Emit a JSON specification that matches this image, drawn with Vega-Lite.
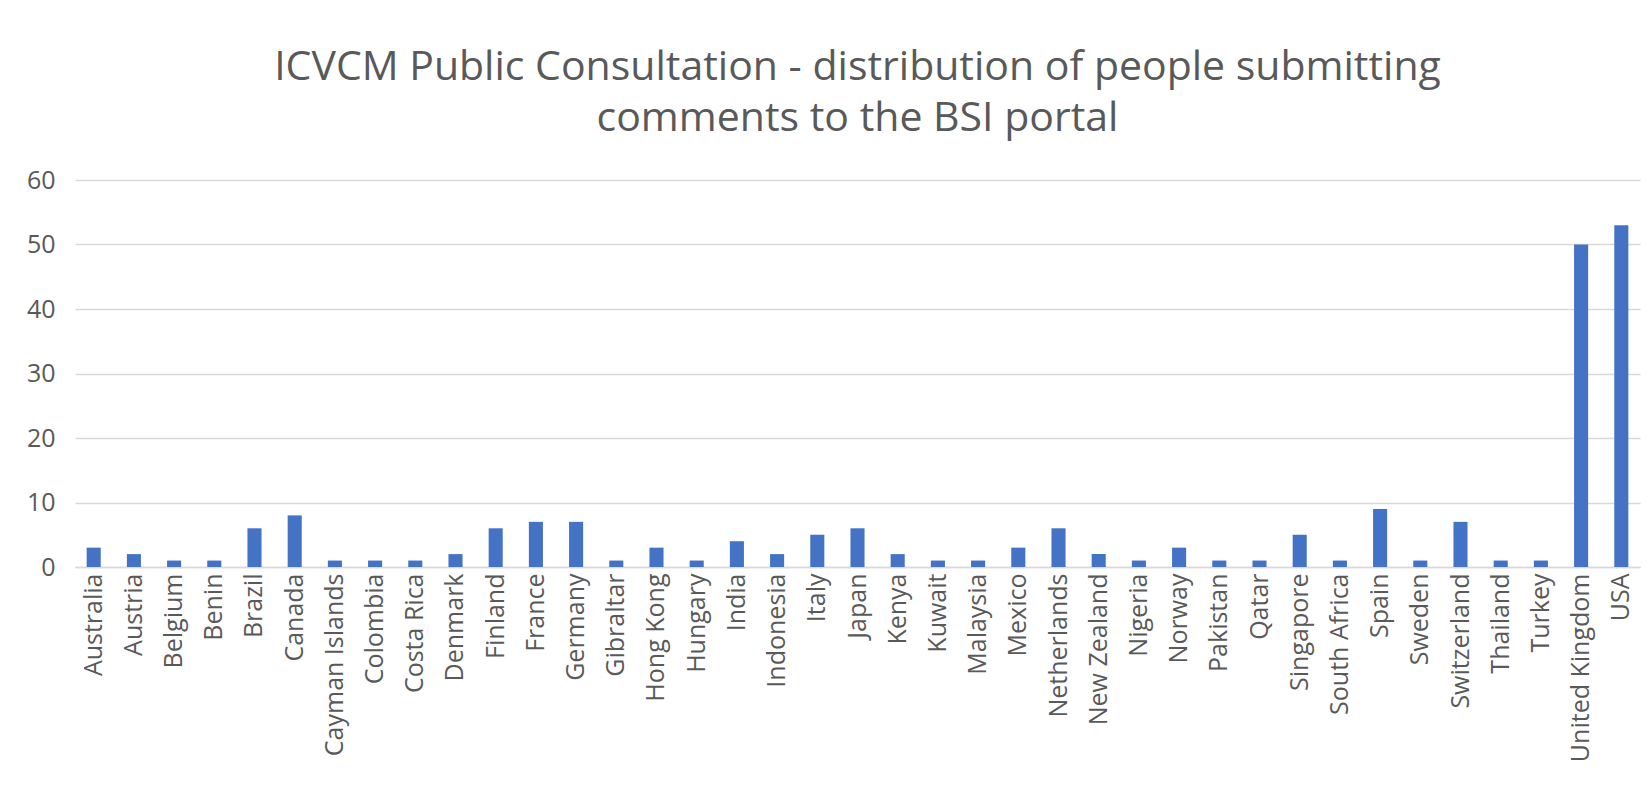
{
  "$schema": "https://vega.github.io/schema/vega-lite/v6.json",
  "width": 1565,
  "height": 387,
  "autosize": {"type": "none"},
  "padding": {"left": 75, "top": 180, "right": 12, "bottom": 230},
  "background": "white",
  "title": {
    "text": ["ICVCM Public Consultation - distribution of people submitting", "comments to the BSI portal"],
    "anchor": "middle",
    "frame": "group",
    "font": "Open Sans",
    "fontSize": 41,
    "fontWeight": "normal",
    "color": "#595959",
    "lineHeight": 51,
    "offset": 28
  },
  "data": {
    "values": [
      {"country": "Australia", "count": 3},
      {"country": "Austria", "count": 2},
      {"country": "Belgium", "count": 1},
      {"country": "Benin", "count": 1},
      {"country": "Brazil", "count": 6},
      {"country": "Canada", "count": 8},
      {"country": "Cayman Islands", "count": 1},
      {"country": "Colombia", "count": 1},
      {"country": "Costa Rica", "count": 1},
      {"country": "Denmark", "count": 2},
      {"country": "Finland", "count": 6},
      {"country": "France", "count": 7},
      {"country": "Germany", "count": 7},
      {"country": "Gibraltar", "count": 1},
      {"country": "Hong Kong", "count": 3},
      {"country": "Hungary", "count": 1},
      {"country": "India", "count": 4},
      {"country": "Indonesia", "count": 2},
      {"country": "Italy", "count": 5},
      {"country": "Japan", "count": 6},
      {"country": "Kenya", "count": 2},
      {"country": "Kuwait", "count": 1},
      {"country": "Malaysia", "count": 1},
      {"country": "Mexico", "count": 3},
      {"country": "Netherlands", "count": 6},
      {"country": "New Zealand", "count": 2},
      {"country": "Nigeria", "count": 1},
      {"country": "Norway", "count": 3},
      {"country": "Pakistan", "count": 1},
      {"country": "Qatar", "count": 1},
      {"country": "Singapore", "count": 5},
      {"country": "South Africa", "count": 1},
      {"country": "Spain", "count": 9},
      {"country": "Sweden", "count": 1},
      {"country": "Switzerland", "count": 7},
      {"country": "Thailand", "count": 1},
      {"country": "Turkey", "count": 1},
      {"country": "United Kingdom", "count": 50},
      {"country": "USA", "count": 53}
    ]
  },
  "mark": {"type": "bar", "color": "#4472C4"},
  "encoding": {
    "x": {
      "field": "country",
      "type": "nominal",
      "sort": null,
      "scale": {"paddingInner": 0.65, "paddingOuter": 0.29},
      "axis": {
        "title": null,
        "labelAngle": -90,
        "labelFont": "Open Sans",
        "labelFontSize": 25,
        "labelColor": "#595959",
        "labelPadding": 6,
        "labelOverlap": false,
        "ticks": false,
        "domainColor": "#D9D9D9",
        "domainWidth": 1.5,
        "labelLimit": 300
      }
    },
    "y": {
      "field": "count",
      "type": "quantitative",
      "scale": {"domain": [0, 60]},
      "axis": {
        "title": null,
        "values": [0, 10, 20, 30, 40, 50, 60],
        "labelFont": "Open Sans",
        "labelFontSize": 25,
        "labelColor": "#595959",
        "labelPadding": 20,
        "ticks": false,
        "domain": false,
        "gridColor": "#D9D9D9",
        "gridWidth": 1.5
      }
    }
  },
  "config": {"view": {"stroke": null}}
}
